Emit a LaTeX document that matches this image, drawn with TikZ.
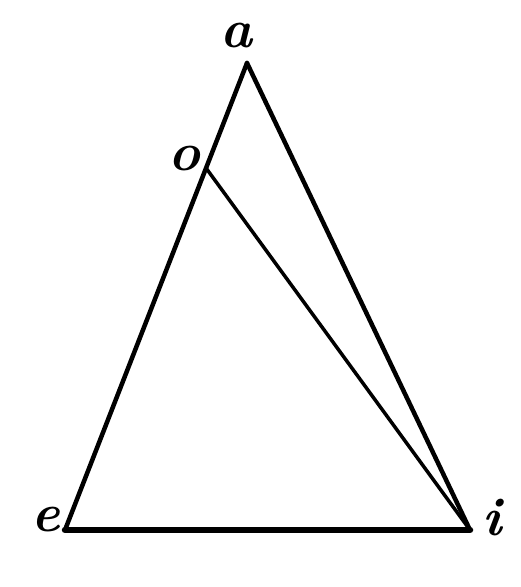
\documentclass[tikz,border=0pt]{standalone}
\usepackage{tikz}
\tikzset{%
  % Specifications for style of lines and labels:
        side/.style = {line width=4.5pt, line join=round, line cap=round},
        base/.style = {side, line width=6.5pt},
       inner/.style = {side, line width=3.5pt},
    vertexlabel/.style = {inner sep=0pt, font=\fontsize{54}{54}\selectfont\bfseries\itshape},
}
\begin{document}
\begin{tikzpicture}[x=1pt, y=-1pt]
  \useasboundingbox (0,0) rectangle (520,587);
  % Specification of points
    \coordinate (a) at (247,63);
    \coordinate (e) at (65,530);
    \coordinate (i) at (470,530);
    \coordinate (o) at (206,168);
  % Labels
    \node (labelA) [vertexlabel] at (236,36)  {a};
    \node (labelO) [vertexlabel] at (184,159) {o};
    \node (labelE) [vertexlabel] at (46,520)  {e};
    \node (labelI) [vertexlabel] at (492,518) {i};
  % Lines between points
    \draw[side]  (a) -- (e);
    \draw[side]  (a) -- (i);
    \draw[base]  (e) -- (i);
    \draw[inner] (o) -- (i);
  \end{tikzpicture}
\end{document}
